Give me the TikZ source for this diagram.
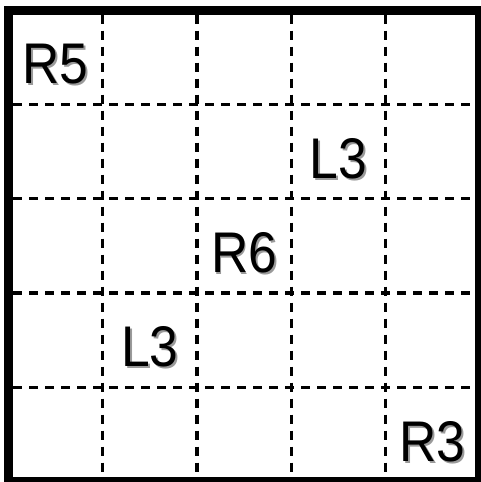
\documentclass[tikz,border=0pt]{standalone}
\usepackage{fontspec}
\setmainfont{Liberation Sans}
\usetikzlibrary{positioning}
\definecolor{shadowgray}{HTML}{9A9A9A}
\newcommand\shadowed[1]{\scalebox{0.9}[1]{\rlap{\kern1.6pt\raisebox{-1.6pt}{\textcolor{shadowgray}{#1}}}#1}}
\tikzset{
  frame/.style={line width=6.75pt},
  gridline/.style={line width=2.4pt, dash pattern=on 7pt off 5pt},
  cell/.style={font=\fontsize{43}{43}\selectfont, inner sep=0pt},
}

\begin{document}
\begin{tikzpicture}[x=0.75pt, y=-0.75pt]

  \useasboundingbox (0,0) rectangle (480,482);
  \fill[white] (0,0) rectangle (480,482);

  % dashed inner grid
  \foreach \i in {1,...,4} {
    \draw[gridline] (8.5+94.2*\i, 14.5) -- (8.5+94.2*\i, 477);
    \draw[gridline] (13, 10+94.3*\i) -- (475, 10+94.3*\i);
  }

  % outer frame
  \draw[frame] (8.5,10) rectangle (479.5,481.5);

  % cell labels
  \node[cell] (r5)  at (8.5+94.2*0.5, 10+94.3*0.5+8) {\shadowed{R5}};
  \node[cell] (l3a) at (8.5+94.2*3.5, 10+94.3*1.5+8) {\shadowed{L3}};
  \node[cell] (r6)  at (8.5+94.2*2.5, 10+94.3*2.5+8) {\shadowed{R6}};
  \node[cell] (l3b) at (8.5+94.2*1.5, 10+94.3*3.5+8) {\shadowed{L3}};
  \node[cell] (r3)  at (8.5+94.2*4.5, 10+94.3*4.5+8) {\shadowed{R3}};

\end{tikzpicture}
\end{document}
